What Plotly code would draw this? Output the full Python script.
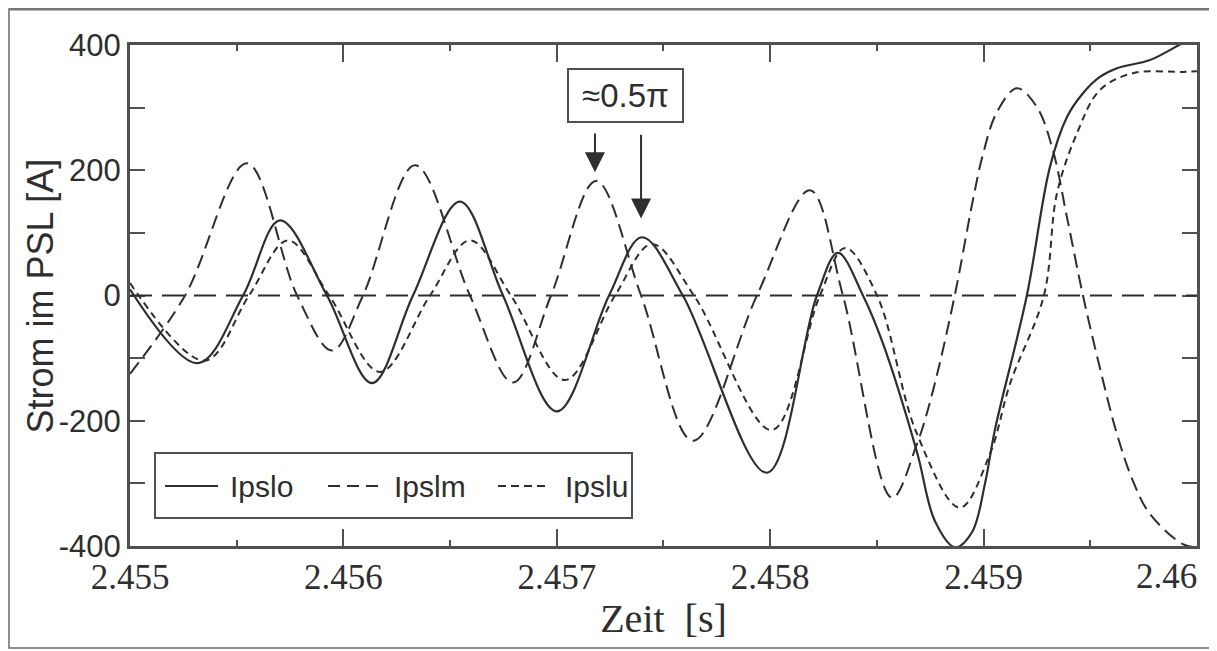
import plotly.graph_objects as go

# ---- data (time in s, current in A) ----
T_IPSLO = [2.455000, 2.455319, 2.455530, 2.455703, 2.455923, 2.456134, 2.456326, 2.456546,
           2.456748, 2.457001, 2.457245, 2.457399, 2.457591, 2.457985, 2.458219, 2.458318,
           2.458435, 2.458529, 2.458688, 2.458772, 2.458866, 2.458946, 2.459007, 2.459053,
           2.459203, 2.459311, 2.459391, 2.459466, 2.459545, 2.459625,
           2.459780, 2.459934, 2.460000]
I_IPSLO = [10, -108, 0, 120, 0, -140, 0, 150,
           0, -185, 0, 93, 0, -283, 0, 68,
           0, -77, -250, -360, -402, -378, -300, -215,
           0, 205, 285, 323, 349, 363,
           376, 403, 412]

T_IPSLM = [2.455000, 2.455258, 2.455548, 2.455783, 2.455947, 2.456092, 2.456336, 2.456593,
           2.456795, 2.456973, 2.457184, 2.457395, 2.457638, 2.457938, 2.458187, 2.458341,
           2.458571, 2.458688, 2.458763, 2.458865, 2.458950,
           2.458997, 2.459063, 2.459157, 2.459250, 2.459325, 2.459391, 2.459466, 2.459545,
           2.459625, 2.459700, 2.459780, 2.459934, 2.460000]
I_IPSLM = [-125, 0, 211, 0, -88, 0, 208, 0,
           -139, 0, 183, 0, -232, 0, 168, 0,
           -323, -237, -152, 0, 152,
           225, 293, 331, 301, 232, 125, 0, -115,
           -221, -296, -349, -397, -402]

T_IPSLU = [2.455000, 2.455351, 2.455558, 2.455740, 2.455933, 2.456172, 2.456406, 2.456593,
           2.456785, 2.457038, 2.457273, 2.457446, 2.457643, 2.458008, 2.458233, 2.458351,
           2.458501, 2.458688, 2.458889, 2.459030, 2.459124, 2.459283,
           2.459344, 2.459438, 2.459545, 2.459700, 2.459934, 2.460000]
I_IPSLU = [20, -104, 0, 88, 0, -122, 0, 88,
           0, -135, 0, 82, 0, -215, 0, 76,
           0, -221, -339, -253, -141, 0,
           163, 259, 328, 355, 357, 358]

SERIES_NAMES = ["Ipslo", "Ipslm", "Ipslu"]

X_TICK_VALUES = [2.455, 2.456, 2.457, 2.458, 2.459, 2.46]
X_TICK_LABELS = ["2.455", "2.456", "2.457", "2.458", "2.459", "2.46"]
Y_TICK_VALUES = [-400, -200, 0, 200, 400]
Y_TICK_LABELS = ["-400", "-200", "0", "200", "400"]

PHASE_LABEL = "≈0.5π"
X_TITLE = "Zeit  [s]"
Y_TITLE = "Strom im PSL [A]"

# ---- styling ----
INK = "#2e2e2e"
FRAME = "#505050"
SANS = "Liberation Sans, Arial, sans-serif"
SERIF = "Liberation Serif, Times New Roman, serif"
DASHES = [None, "14px,7px", "7px,5px"]
LEGEND_DASHES = ["solid", "12px,7px", "8px,5px"]

series = [(T_IPSLO, I_IPSLO), (T_IPSLM, I_IPSLM), (T_IPSLU, I_IPSLU)]

fig = go.Figure()
for (t, i), name, dash in zip(series, SERIES_NAMES, DASHES):
    line = dict(color=INK, width=2.2 if dash is None else 2.0, shape="spline", smoothing=1.0)
    if dash:
        line["dash"] = dash
    fig.add_trace(go.Scatter(x=t, y=i, mode="lines", name=name, line=line, showlegend=False))

# the last x label sits flush left of the axis end (as in the original), drawn separately below
x_ticktext = X_TICK_LABELS[:-1] + [""]

fig.update_layout(
    width=1209, height=643,
    margin=dict(l=122, r=20, t=37, b=105),
    paper_bgcolor="white", plot_bgcolor="white",
    xaxis=dict(range=[2.455, 2.4600004], tickmode="array", tickvals=X_TICK_VALUES, ticktext=x_ticktext,
               ticks="inside", ticklen=17, tickwidth=2, tickcolor=FRAME,
               minor=dict(dtick=0.0005, ticks="inside", ticklen=6, tickwidth=2, tickcolor=FRAME),
               showline=True, linewidth=3, linecolor=FRAME, mirror="ticks",
               showgrid=False, zeroline=False, ticklabelstandoff=-2,
               automargin=False,
               tickfont=dict(family=SERIF, size=35, color=INK),
               title=dict(text=X_TITLE, font=dict(family=SERIF, size=40, color=INK), standoff=8)),
    yaxis=dict(range=[-400, 400], tickmode="array", tickvals=Y_TICK_VALUES, ticktext=Y_TICK_LABELS,
               ticks="inside", ticklen=15, tickwidth=2, tickcolor=FRAME,
               minor=dict(dtick=100, ticks="inside", ticklen=15, tickwidth=2, tickcolor=FRAME),
               showline=True, linewidth=3, linecolor=FRAME, mirror="ticks",
               showgrid=False, zeroline=False, automargin=False,
               tickfont=dict(family=SANS, size=31, color=INK)),
)

fig.add_annotation(x=1.002, y=-0.061, xref="paper", yref="paper", text=X_TICK_LABELS[-1],
                   showarrow=False, xanchor="right", yanchor="middle",
                   font=dict(family=SERIF, size=35, color=INK))

# y-axis title placed like the original
fig.add_annotation(x=-0.0835, y=0.5, xref="paper", yref="paper", text=Y_TITLE, showarrow=False,
                   textangle=-90, xanchor="center", yanchor="middle",
                   font=dict(family=SANS, size=36, color=INK))

# dashed zero line
fig.add_shape(type="line", xref="paper", x0=0, x1=1, yref="y", y0=0, y1=0,
              line=dict(color=INK, width=2, dash="22px,10px"))

# outer page frame (scan border)
fig.add_shape(type="rect", xref="paper", yref="paper", x0=-0.1134, x1=1.0131, y0=-0.2036, y1=1.0719,
              line=dict(color="#6a6a6a", width=1.5), layer="below")
fig.add_shape(type="line", xref="paper", yref="paper", x0=-0.1134, x1=1.0131, y0=1.0719, y1=1.0719,
              line=dict(color="#777777", width=3))

# legend (drawn as a boxed row, like the original)
fig.add_shape(type="rect", xref="paper", yref="paper", x0=0.02343, x1=0.47048, y0=0.05589, y1=0.18563,
              line=dict(color=FRAME, width=2), fillcolor="white")
leg_line_x = [(0.0328, 0.08247), (0.18557, 0.2343), (0.3449, 0.39363)]
leg_text_x = [0.09185, 0.24555, 0.40581]
for name, dash, (lx0, lx1), tx in zip(SERIES_NAMES, LEGEND_DASHES, leg_line_x, leg_text_x):
    fig.add_shape(type="line", xref="paper", yref="paper", x0=lx0, x1=lx1, y0=0.11976, y1=0.11976,
                  line=dict(color=INK, width=2, dash=dash))
    fig.add_annotation(x=tx, y=0.11976, xref="paper", yref="paper", text=name, showarrow=False,
                       xanchor="left", yanchor="middle", font=dict(family=SANS, size=30, color=INK))

# phase annotation box and arrows
fig.add_annotation(x=2.457324, y=320, xref="x", yref="y", text=PHASE_LABEL, showarrow=False,
                   font=dict(family=SANS, size=33, color=INK), bgcolor="white",
                   bordercolor=FRAME, borderwidth=2, width=113, height=51, borderpad=0)
fig.add_annotation(x=2.457179, y=197, ax=2.457179, ay=261, xref="x", yref="y", axref="x", ayref="y",
                   text="", showarrow=True, arrowhead=2, arrowsize=2, arrowwidth=2, arrowcolor=INK)
fig.add_annotation(x=2.457395, y=123, ax=2.457395, ay=259, xref="x", yref="y", axref="x", ayref="y",
                   text="", showarrow=True, arrowhead=2, arrowsize=2, arrowwidth=2, arrowcolor=INK)

fig.write_html("out.html")
